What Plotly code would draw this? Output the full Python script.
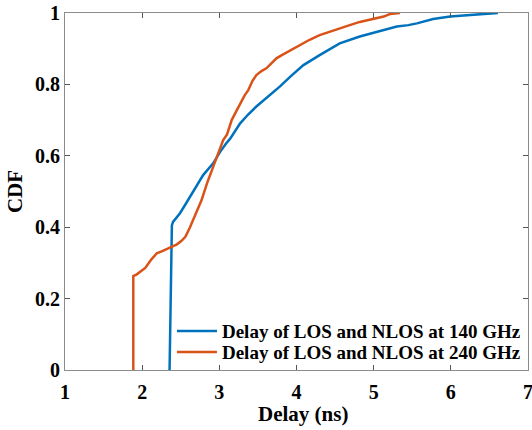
import plotly.graph_objects as go

x140 = [2.355, 2.385, 2.40, 2.49, 2.55, 2.62, 2.70, 2.79, 2.92, 3.01, 3.09, 3.14, 3.27, 3.37,
        3.48, 3.57, 3.66, 3.79, 3.92, 4.09, 4.30, 4.56, 4.82, 5.08, 5.30, 5.45, 5.56, 5.77,
        5.99, 6.21, 6.42, 6.61]
y140 = [0.0, 0.405, 0.415, 0.439, 0.46, 0.485, 0.515, 0.546, 0.579, 0.611, 0.635, 0.648, 0.691,
        0.715, 0.738, 0.755, 0.77, 0.795, 0.822, 0.854, 0.882, 0.915, 0.934, 0.948, 0.962,
        0.966, 0.971, 0.983, 0.99, 0.994, 0.998, 1.0]

x240 = [1.885, 1.885, 1.93, 2.04, 2.12, 2.19, 2.26, 2.36, 2.45, 2.51, 2.56, 2.62, 2.66, 2.72,
        2.77, 2.84, 2.92, 2.99, 3.05, 3.10, 3.16, 3.22, 3.27, 3.33, 3.375, 3.43, 3.48, 3.55,
        3.61, 3.68, 3.74, 3.81, 3.89, 3.97, 4.05, 4.17, 4.30, 4.43, 4.56, 4.69, 4.82, 4.93,
        5.04, 5.13, 5.21, 5.28, 5.34]
y240 = [0.0, 0.263, 0.268, 0.286, 0.31, 0.327, 0.333, 0.342, 0.352, 0.362, 0.373, 0.40, 0.42,
        0.45, 0.476, 0.523, 0.569, 0.607, 0.644, 0.66, 0.70, 0.725, 0.747, 0.77, 0.784, 0.81,
        0.826, 0.838, 0.845, 0.86, 0.873, 0.882, 0.892, 0.902, 0.91, 0.925, 0.938, 0.948,
        0.957, 0.966, 0.975, 0.98, 0.985, 0.99, 0.997, 0.999, 1.0]

names = ["Delay of LOS and NLOS at 140 GHz", "Delay of LOS and NLOS at 240 GHz"]
x_ticks = [1, 2, 3, 4, 5, 6, 7]
y_ticks = [0, 0.2, 0.4, 0.6, 0.8, 1]
y_tick_labels = ["0", "0.2", "0.4", "0.6", "0.8", "1"]

FONT = "Liberation Serif"
BOLD = dict(family=FONT, color="black", weight="bold")

fig = go.Figure()
fig.add_trace(go.Scatter(x=x140, y=y140, mode="lines", name=names[0], legend="legend",
                         line=dict(color="#0072BD", width=2.5)))
fig.add_trace(go.Scatter(x=x240, y=y240, mode="lines", name=names[1], legend="legend2",
                         line=dict(color="#D95319", width=2.5)))

axis_common = dict(showline=True, linecolor="#8c8c8c", linewidth=1, mirror="allticks",
                   ticks="inside", ticklen=5, tickcolor="#555555", showgrid=False,
                   zeroline=False, automargin=False, ticklabeloverflow="allow",
                   tickfont=dict(size=20, **BOLD))

leg_common = dict(xanchor="left", yanchor="middle", bgcolor="rgba(255,255,255,0)",
                  borderwidth=0, itemwidth=40, font=dict(size=19, **BOLD))

fig.update_layout(
    width=532, height=430,
    margin=dict(l=65, r=4, t=13, b=60),
    plot_bgcolor="white", paper_bgcolor="white",
    showlegend=True,
    legend=dict(x=0.231, y=0.109, **leg_common),
    legend2=dict(x=0.231, y=0.050, **leg_common),
    xaxis=dict(range=[1, 7], tickvals=x_ticks, ticklabelstandoff=4, **axis_common),
    yaxis=dict(range=[0, 1], tickvals=y_ticks, ticktext=y_tick_labels,
               title=dict(text="CDF", standoff=6, font=dict(size=21, **BOLD)),
               **axis_common),
    annotations=[dict(text="Delay (ns)", xref="paper", yref="paper",
                      x=(303 - 65) / 463, y=-44 / 357, xanchor="center", yanchor="middle",
                      showarrow=False, font=dict(size=21, **BOLD))],
)

fig.write_html("out.html")
